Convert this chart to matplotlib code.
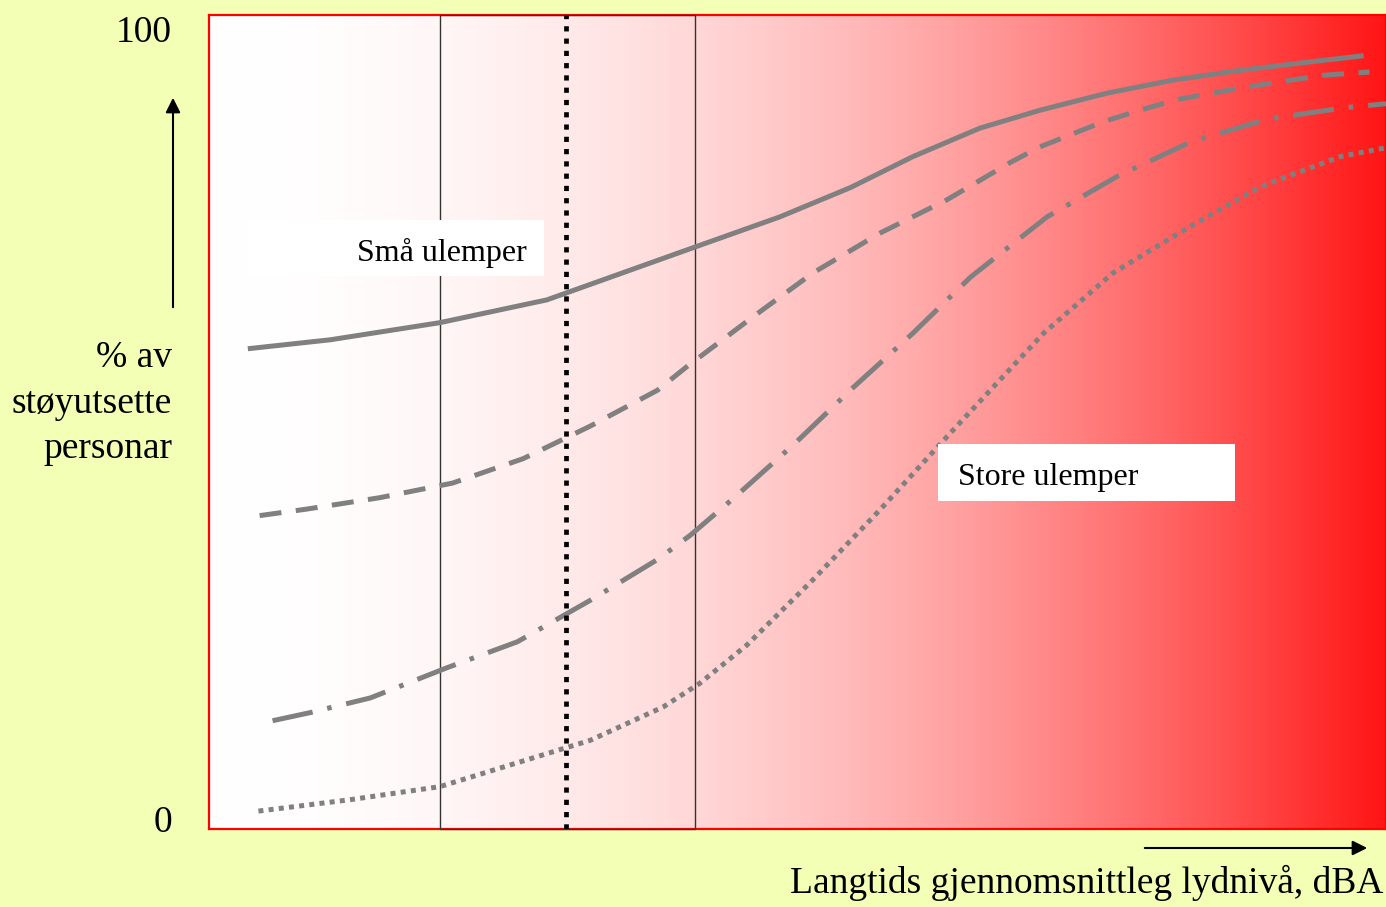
import matplotlib
matplotlib.use("Agg")
import matplotlib.pyplot as plt
import numpy as np
from matplotlib.patches import Rectangle, FancyArrowPatch

# ---------------- data (x and y in % of the axes) ----------------
solid_x = [3.3, 10.3, 19.6, 28.7, 41.3, 48.5, 54.5, 59.8, 65.5, 70.6, 76.3, 81.9, 87.6, 93.3, 98.1]
solid_y = [59.0, 60.1, 62.2, 65.0, 71.5, 75.2, 78.8, 82.6, 86.1, 88.3, 90.4, 92.0, 93.2, 94.2, 95.0]

dash_x = [4.3, 8.3, 14.5, 20.7, 26.7, 32.4, 38.1, 40.6, 46.2, 51.3, 57.0, 62.7, 68.1, 70.6, 76.0,
	79.1, 82.2, 88.3, 94.7, 98.6]
dash_y = [38.5, 39.3, 40.7, 42.5, 45.5, 49.5, 53.9, 56.8, 62.9, 68.3, 73.2, 77.3, 81.9, 83.8, 86.9,
	88.3, 89.6, 91.2, 92.6, 93.0]

dashdot_x = [5.4, 8.6, 13.7, 20.2, 26.2, 32.4, 38.1, 40.9, 44.7, 49.8, 54.7, 59.8, 64.7, 71.2,
	77.2, 83.4, 89.9, 96.4, 100.0]
dashdot_y = [13.3, 14.3, 16.1, 19.8, 23.0, 28.1, 33.1, 36.1, 40.8, 47.4, 54.2, 60.9, 67.8, 75.2,
	80.2, 84.4, 87.2, 88.6, 89.1]

dot_x = [4.2, 12.0, 19.6, 32.4, 38.6, 41.7, 45.7, 51.3, 57.0, 62.7, 70.9, 76.8, 83.1, 89.3, 96.1, 100.0]
dot_y = [2.2, 3.6, 5.2, 10.9, 15.0, 17.9, 22.6, 30.6, 39.2, 48.2, 60.9, 68.3, 73.8, 78.9, 82.6, 83.7]

# marked range (box) and the level line inside it
range_lo = 19.6
range_hi = 41.3
level_x = 30.3

label_small = "Små ulemper"
label_large = "Store ulemper"
y_top_label = "100"
y_bottom_label = "0"
y_label_lines = ["% av", "støyutsette", "personar"]
x_label = "Langtids gjennomsnittleg lydnivå, dBA"

#---------------------------------------figure------------------------------------------
plt.rcParams['font.family'] = ['Liberation Serif', 'DejaVu Serif']
bg = '#F3FFB4'
W, H = 1386, 907
fig = plt.figure(figsize=(W / 100, H / 100), dpi=100, facecolor=bg)
ax = fig.add_axes([209 / W, 78 / H, 1 - 209 / W, 814 / H])
ax.set_xlim(0, 100)
ax.set_ylim(0, 100)
ax.set_xticks([])
ax.set_yticks([])
for side in ax.spines:
	ax.spines[side].set_color('#FF0000')
	ax.spines[side].set_linewidth(1.6)

#white -> red background gradient
t = np.linspace(0, 1, 600)
f = 0.92 * t ** 2
grad = np.zeros((1, len(t), 3))
grad[0, :, 0] = 1.0
grad[0, :, 1] = 1 - f
grad[0, :, 2] = 1 - f
ax.imshow(grad, extent=[0, 100, 0, 100], aspect='auto', zorder=0, interpolation='bilinear')

#the curves
gray = '#808080'
lw = 3.6
ax.plot(solid_x, solid_y, color=gray, lw=lw, solid_capstyle='butt', solid_joinstyle='round', zorder=3)
ax.plot(dash_x, dash_y, color=gray, lw=lw, linestyle=(0, (4.4, 2.9)), zorder=3)
ax.plot(dashdot_x, dashdot_y, color=gray, lw=lw, linestyle=(0, (8.2, 3.0, 0.9, 3.0)), zorder=3)
ax.plot(dot_x, dot_y, color=gray, lw=lw, linestyle=(0, (1.0, 1.05)), zorder=3)

#box around the range + dotted level line
ax.add_patch(Rectangle((range_lo, 0), range_hi - range_lo, 100, fill=False,
	edgecolor='#333333', lw=1.0, zorder=2.6, clip_on=False))
ax.axvline(level_x, color='black', lw=3.4, linestyle=(0, (1.1, 1.5)), zorder=4)

#label boxes
ax.add_patch(Rectangle((3.3, 67.9), 25.2, 6.9, facecolor='white', edgecolor='none', zorder=5))
ax.text(12.6, 69.8, label_small, fontsize=23, va='baseline', ha='left', zorder=6)
ax.add_patch(Rectangle((61.9, 40.3), 25.3, 7.0, facecolor='white', edgecolor='none', zorder=5))
ax.text(63.6, 42.3, label_large, fontsize=23, va='baseline', ha='left', zorder=6)

#y side texts
xr = 172 / W
fig.text(xr, (H - 42) / H, y_top_label, fontsize=27, ha='right', va='baseline')
fig.text(xr, (H - 832) / H, y_bottom_label, fontsize=27, ha='right', va='baseline')
for txt, base in zip(y_label_lines, [367, 413, 458]):
	fig.text(xr, (H - base) / H, txt, fontsize=27, ha='right', va='baseline')

#x label
fig.text(1383 / W, (H - 893) / H, x_label, fontsize=27, ha='right', va='baseline')

#arrows
fig.add_artist(FancyArrowPatch((173 / W, (H - 310) / H), (173 / W, (H - 95) / H),
	transform=fig.transFigure, arrowstyle='-|>', mutation_scale=22, lw=1.5, color='black'))
fig.add_artist(FancyArrowPatch((1142 / W, (H - 848) / H), (1370 / W, (H - 848) / H),
	transform=fig.transFigure, arrowstyle='-|>', mutation_scale=22, lw=1.5, color='black'))

fig.savefig('out.png', dpi=100, facecolor=bg)
